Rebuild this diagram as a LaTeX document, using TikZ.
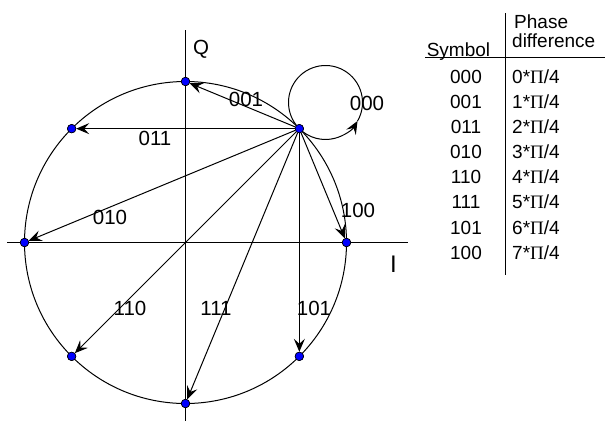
\documentclass[tikz,border=0pt]{standalone}
\usepackage{fontspec}
\setmainfont{Liberation Sans}
\newfontfamily\pifont{Liberation Serif}
\usetikzlibrary{arrows.meta,calc}
\newcommand{\PiSym}{{\pifont Π}}
\begin{document}
\begin{tikzpicture}[x=1pt,y=-1pt,
  dot/.style={circle,draw=black,fill=blue,inner sep=0pt,minimum size=8.5pt,line width=0.6pt},
  vec/.style={line width=1pt,-{Stealth[length=13pt,width=11pt,inset=5pt]}},
  lab/.style={font=\fontsize{20.5}{24}\selectfont,inner sep=0pt},
  tab/.style={font=\fontsize{19}{22}\selectfont,inner sep=0pt},
  axis/.style={line width=1.1pt}]
\useasboundingbox (0,0) rectangle (608,421);
% axes
\coordinate (c) at (185.5,242.5);
\coordinate (qt) at (185.5,30);
\coordinate (qb) at (185.5,421);
\coordinate (il) at (7,242.5);
\coordinate (ir) at (408,242.5);
\draw[axis] (qt) -- (qb);
\draw[axis] (il) -- (ir);
\node[lab] (Q) at (201,49) {Q};
\node[lab,font=\fontsize{24}{28}\selectfont] (I) at (393.5,264) {I};
% big circle
\draw[line width=1pt] (c) circle (161pt);
% constellation points
\foreach \a [count=\i from 0] in {0,45,90,135,180,225,270,315}
  \coordinate (q\i) at ($(c)+(\a:161pt)$);
\foreach \i in {0,...,7}
  \node[dot] (p\i) at (q\i) {};
% loop for 000
\coordinate (sc) at ($(c)+(45:198pt)$);
\draw[vec] (q1) arc[start angle=225,end angle=330,radius=37pt];
\draw[line width=1pt] ($(sc)+(330:37pt)$) arc[start angle=330,end angle=585,radius=37pt];
% vectors
\foreach \j in {0,2,3,4,5,6,7}
  \draw[vec] (p1) -- (p\j);
% redraw dots on top
\foreach \i in {0,...,7}
  \node[dot] at (q\i) {};
% labels
\node[lab] (l000) at (367,103) {000};
\node[lab] (l001) at (246,99) {001};
\node[lab] (l011) at (155,138) {011};
\node[lab] (l010) at (110,217) {010};
\node[lab] (l110) at (130,308) {110};
\node[lab] (l111) at (216,308) {111};
\node[lab] (l101) at (314,308) {101};
\node[lab] (l100) at (358,210) {100};
% table
\coordinate (vt) at (505,13);
\coordinate (vb) at (505,275);
\coordinate (hl) at (425,57);
\coordinate (hr) at (605,57);
\draw[line width=1pt] (vt) -- (vb);
\draw[line width=1pt] (hl) -- (hr);
\node[tab,anchor=base west] (h1) at (514,28.5) {Phase};
\node[tab,anchor=base west] (h2) at (512,47.5) {difference};
\node[tab,anchor=base] (h3) at (458.5,56) {Symbol};
\foreach \s/\k [count=\i from 0] in {000/0,001/1,011/2,010/3,110/4,111/5,101/6,100/7} {
  \node[tab,anchor=base] (s\i) at (466,83.4+25.1*\i) {\s};
  \node[tab,anchor=base west] (f\i) at (512,83.4+25.1*\i) {\k*\PiSym/4};
}
\end{tikzpicture}
\end{document}
